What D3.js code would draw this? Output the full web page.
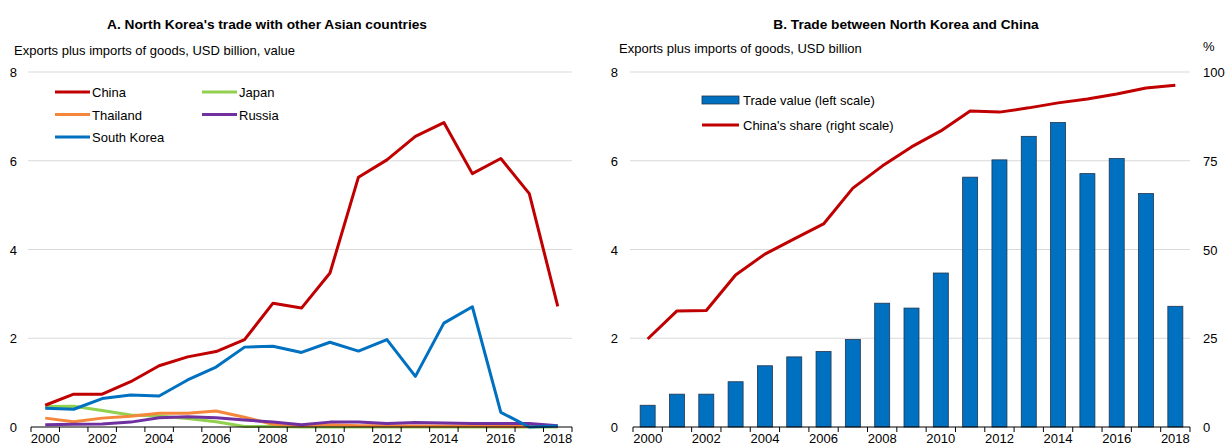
<!DOCTYPE html>
<html>
<head>
<meta charset="utf-8">
<script src="https://cdn.jsdelivr.net/npm/d3@7"></script>
<style>
  body { margin: 0; background: #fff; }
  svg { display: block; font-family: "Liberation Sans Narrow", "Arial Narrow", "Liberation Sans", Arial, sans-serif; }
  .title { font-weight: bold; font-size: 13.7px; }
  .lab { font-size: 13px; fill: #000; }
</style>
</head>
<body>
<div id="chart"></div>
<script>
// data
var years = d3.range(2000, 2019);
var xTicks = [2000, 2002, 2004, 2006, 2008, 2010, 2012, 2014, 2016, 2018];
var yTicks = [0, 2, 4, 6, 8];
var pctTicks = [0, 25, 50, 75, 100];

var china      = [0.49, 0.74, 0.74, 1.02, 1.38, 1.58, 1.70, 1.97, 2.79, 2.68, 3.47, 5.63, 6.02, 6.55, 6.86, 5.71, 6.05, 5.26, 2.72];
var japan      = [0.46, 0.47, 0.37, 0.27, 0.25, 0.19, 0.12, 0.01, 0.01, 0.00, 0.00, 0.00, 0.00, 0.00, 0.00, 0.00, 0.00, 0.00, 0.00];
var thailand   = [0.20, 0.12, 0.20, 0.24, 0.31, 0.31, 0.36, 0.22, 0.06, 0.03, 0.05, 0.03, 0.03, 0.02, 0.02, 0.02, 0.01, 0.01, 0.01];
var russia     = [0.05, 0.06, 0.07, 0.11, 0.21, 0.23, 0.21, 0.16, 0.11, 0.05, 0.11, 0.11, 0.08, 0.10, 0.09, 0.08, 0.08, 0.08, 0.03];
var southKorea = [0.42, 0.40, 0.64, 0.72, 0.70, 1.06, 1.35, 1.80, 1.82, 1.68, 1.91, 1.71, 1.97, 1.14, 2.34, 2.71, 0.33, 0.00, 0.02];
var chinaShare = [24.8, 32.7, 32.8, 42.8, 48.7, 53.0, 57.2, 67.3, 73.5, 78.9, 83.4, 89.0, 88.7, 89.9, 91.3, 92.4, 93.8, 95.5, 96.3];

var seriesA = [
  {name: "China", values: china, color: "#c00000"},
  {name: "Japan", values: japan, color: "#92d050"},
  {name: "Thailand", values: thailand, color: "#f4873b"},
  {name: "Russia", values: russia, color: "#7030a0"},
  {name: "South Korea", values: southKorea, color: "#0070c0"}
];

var svg = d3.select("#chart").append("svg")
    .attr("width", 1226)
    .attr("height", 445);

function panelFrame(x, y, yLeft) {
  // gridlines
  svg.append("g").selectAll("line")
    .data(yTicks.filter(function(d){return d > 0;}))
    .enter().append("line")
    .attr("x1", x.range()[0] - 3).attr("x2", x.range()[1])
    .attr("y1", function(d){return y(d);}).attr("y2", function(d){return y(d);})
    .attr("stroke", "#d9d9d9").attr("stroke-width", 1);

  svg.append("g").selectAll("text")
    .data(yTicks)
    .enter().append("text")
    .attr("class", "lab")
    .attr("text-anchor", "end")
    .attr("x", yLeft)
    .attr("y", function(d){return y(d) + 5;})
    .text(function(d){return d;});
}

function xAxis(x, y0) {
  var g = svg.append("g").attr("transform", "translate(0," + y0 + ")");
  var bounds = x.domain().map(function(d){return x(d);}).concat([x.range()[1]]);
  g.append("line")
    .attr("x1", x.range()[0]).attr("x2", x.range()[1])
    .attr("stroke", "#000").attr("stroke-width", 1);
  g.selectAll("line.tk")
    .data(bounds)
    .enter().append("line")
    .attr("class", "tk")
    .attr("x1", function(d){return d;}).attr("x2", function(d){return d;})
    .attr("y1", 0).attr("y2", 5)
    .attr("stroke", "#000");
  g.selectAll("text")
    .data(xTicks)
    .enter().append("text")
    .attr("class", "lab")
    .attr("text-anchor", "middle")
    .attr("x", function(d){return x(d) + x.bandwidth() / 2;})
    .attr("y", 16)
    .text(function(d){return d;});
}

// ---------- Panel A ----------
var xA = d3.scaleBand().domain(years).range([31, 572]);
var yA = d3.scaleLinear().domain([0, 8]).range([427, 72]);

svg.append("text").attr("class", "title").attr("x", 267).attr("y", 29)
  .attr("text-anchor", "middle").text("A. North Korea's trade with other Asian countries");
svg.append("text").attr("class", "lab").attr("x", 14).attr("y", 55)
  .text("Exports plus imports of goods, USD billion, value");

panelFrame(xA, yA, 17);

var lineA = d3.line()
  .x(function(d, i){return xA(years[i]) + xA.bandwidth() / 2;})
  .y(function(d){return yA(d);});

// draw order: Japan, Thailand, Russia, South Korea, China on top
[1, 2, 3, 4, 0].forEach(function(k){
  svg.append("path")
    .attr("d", lineA(seriesA[k].values))
    .attr("fill", "none")
    .attr("stroke", seriesA[k].color)
    .attr("stroke-width", 3)
    .attr("stroke-linejoin", "round");
});

xAxis(xA, 427);

var legA = svg.append("g");
legA.selectAll("g")
  .data(seriesA)
  .enter().append("g")
  .attr("transform", function(d, i){
    var col = (i === 1 || i === 3) ? 1 : 0;
    var row = i === 4 ? 2 : Math.floor(i / 2);
    return "translate(" + (55 + col * 147) + "," + (92 + row * 22.5) + ")";
  })
  .each(function(d){
    var g = d3.select(this);
    g.append("line").attr("x1", 0).attr("x2", 35)
      .attr("stroke", d.color).attr("stroke-width", 3);
    g.append("text").attr("class", "lab").attr("x", 37).attr("y", 5).text(d.name);
  });

// ---------- Panel B ----------
var xB = d3.scaleBand().domain(years).range([633, 1190]).paddingInner(0);
var yB = d3.scaleLinear().domain([0, 8]).range([427, 72]);
var yP = d3.scaleLinear().domain([0, 100]).range([427, 72]);

svg.append("text").attr("class", "title").attr("x", 906).attr("y", 29)
  .attr("text-anchor", "middle").text("B. Trade between North Korea and China");
svg.append("text").attr("class", "lab").attr("x", 619).attr("y", 53)
  .text("Exports plus imports of goods, USD billion");
svg.append("text").attr("class", "lab").attr("x", 1203).attr("y", 51).text("%");

panelFrame(xB, yB, 618);

svg.append("g").selectAll("text")
  .data(pctTicks)
  .enter().append("text")
  .attr("class", "lab")
  .attr("x", 1203)
  .attr("y", function(d){return yP(d) + 5;})
  .text(function(d){return d;});

var bw = 15;
svg.append("g").selectAll("rect")
  .data(china)
  .enter().append("rect")
  .attr("x", function(d, i){return xB(years[i]) + (xB.bandwidth() - bw) / 2;})
  .attr("y", function(d){return yB(d);})
  .attr("width", bw)
  .attr("height", function(d){return yB(0) - yB(d);})
  .attr("fill", "#0070c0")
  .attr("stroke", "#1f3550")
  .attr("stroke-width", 0.8);

var lineB = d3.line()
  .x(function(d, i){return xB(years[i]) + xB.bandwidth() / 2;})
  .y(function(d){return yP(d);});

svg.append("path")
  .attr("d", lineB(chinaShare))
  .attr("fill", "none")
  .attr("stroke", "#c00000")
  .attr("stroke-width", 3)
  .attr("stroke-linejoin", "round");

xAxis(xB, 427);

var legB = svg.append("g").attr("transform", "translate(702,0)");
legB.append("rect").attr("x", 0).attr("y", 96).attr("width", 37).attr("height", 8)
  .attr("fill", "#0070c0").attr("stroke", "#1f3550").attr("stroke-width", 0.8);
legB.append("text").attr("class", "lab").attr("x", 41).attr("y", 105).text("Trade value (left scale)");
legB.append("line").attr("x1", 0).attr("x2", 37).attr("y1", 125).attr("y2", 125)
  .attr("stroke", "#c00000").attr("stroke-width", 3);
legB.append("text").attr("class", "lab").attr("x", 41).attr("y", 130).text("China's share (right scale)");
</script>
</body>
</html>
